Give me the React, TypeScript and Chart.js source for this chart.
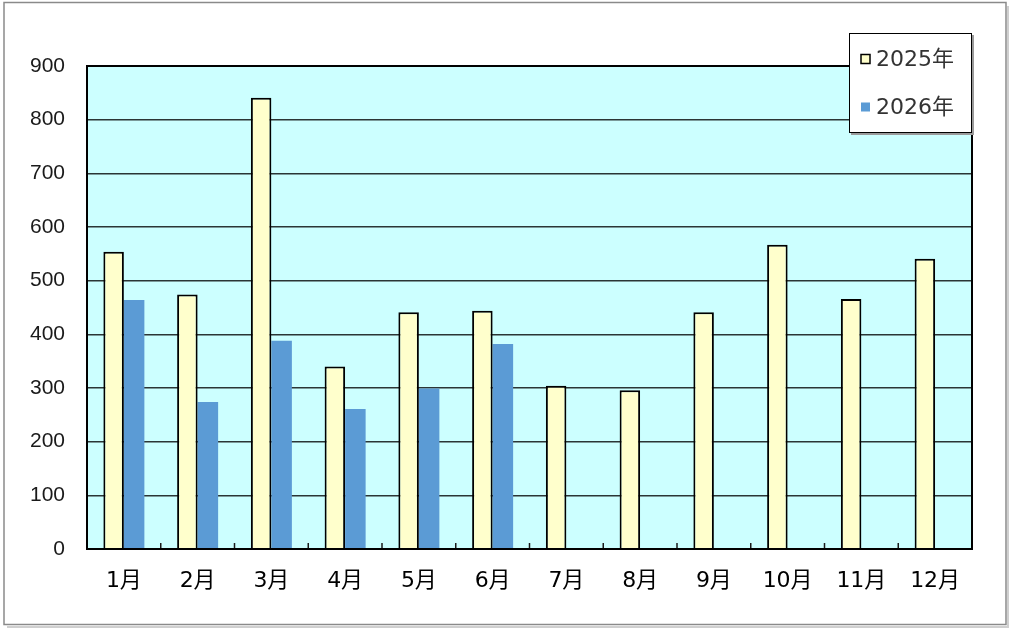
import React, { useEffect, useRef } from "react";
import { Chart, registerables } from "chart.js";

Chart.register(...registerables);

const categories = ["1月", "2月", "3月", "4月", "5月", "6月", "7月", "8月", "9月", "10月", "11月", "12月"];
const seriesNames = ["2025年", "2026年"];
const values2025 = [554, 474, 841, 340, 441, 444, 304, 296, 441, 567, 466, 541];
const values2026: (number | null)[] = [464, 274, 388, 261, 299, 382, null, null, null, null, null, null];
const yMin = 0;
const yMax = 900;
const yStep = 100;

const YELLOW = "#FFFFCC";
const BLUE = "#5B9BD5";
const PLOT_BG = "#CCFFFF";

const decorPlugin = {
  id: "decor",
  beforeDraw(chart: any) {
    const { ctx, chartArea: a, width, height } = chart;
    ctx.save();
    ctx.fillStyle = "#ffffff";
    ctx.fillRect(0, 0, width, height);
    ctx.strokeStyle = "#cfcfcf";
    ctx.lineWidth = 2;
    ctx.beginPath();
    ctx.moveTo(width - 5, 6);
    ctx.lineTo(width - 5, height - 3);
    ctx.lineTo(7, height - 3);
    ctx.stroke();
    ctx.strokeStyle = "#8a8a8a";
    ctx.lineWidth = 1.5;
    ctx.strokeRect(4, 2.5, width - 11, height - 8);
    ctx.fillStyle = PLOT_BG;
    ctx.fillRect(a.left, a.top, a.right - a.left, a.bottom - a.top);
    ctx.restore();
  },
  afterDatasetsDraw(chart: any) {
    const { ctx, chartArea: a } = chart;
    const xs = chart.scales.x;
    ctx.save();
    ctx.strokeStyle = "#1a1a1a";
    ctx.lineWidth = 1.5;
    const n = categories.length;
    for (let i = 0; i < n - 1; i++) {
      const bx = (xs.getPixelForTick(i) + xs.getPixelForTick(i + 1)) / 2;
      ctx.beginPath();
      ctx.moveTo(bx, a.bottom);
      ctx.lineTo(bx, a.bottom - 6);
      ctx.stroke();
    }
    ctx.strokeStyle = "#000000";
    ctx.lineWidth = 2;
    ctx.strokeRect(a.left, a.top, a.right - a.left, a.bottom - a.top);

    const w = 123;
    const h = 100;
    const lx = a.right - w;
    const ly = a.top - 33;
    ctx.fillStyle = "#9a9a9a";
    ctx.fillRect(lx + 2, ly + 2, w, h);
    ctx.fillStyle = "#ffffff";
    ctx.fillRect(lx, ly, w, h);
    ctx.strokeStyle = "#000000";
    ctx.lineWidth = 1;
    ctx.strokeRect(lx + 0.5, ly + 0.5, w - 1, h - 1);

    const rows = [ly + 26, ly + 74];
    chart.data.datasets.forEach((ds: any, i: number) => {
      const cy = rows[i];
      ctx.fillStyle = ds.backgroundColor;
      ctx.fillRect(lx + 12, cy - 4.5, 9, 9);
      if (ds.borderWidth) {
        ctx.strokeStyle = "#000";
        ctx.lineWidth = 1.5;
        ctx.strokeRect(lx + 12, cy - 4.5, 9, 9);
      }
      ctx.fillStyle = "#333333";
      ctx.font = '22px "DejaVu Sans", "Noto Sans CJK JP", sans-serif';
      ctx.textAlign = "left";
      ctx.textBaseline = "middle";
      ctx.fillText(ds.label, lx + 27, cy + 1);
    });
    ctx.restore();
  },
};

export default function App() {
  const ref = useRef<HTMLCanvasElement | null>(null);

  useEffect(() => {
    document.body.style.margin = "0";
    const canvas = ref.current;
    if (!canvas) return;
    const chart = new Chart(canvas, {
      type: "bar",
      data: {
        labels: categories,
        datasets: [
          {
            label: seriesNames[0],
            data: values2025,
            backgroundColor: YELLOW,
            borderColor: "#000000",
            borderWidth: 2,
            borderSkipped: "bottom",
          },
          {
            label: seriesNames[1],
            data: values2026,
            backgroundColor: BLUE,
            borderWidth: 0,
          },
        ],
      },
      options: {
        responsive: false,
        animation: false,
        layout: { padding: { top: 66, right: 41, left: 0, bottom: 0 } },
        datasets: {
          bar: { categoryPercentage: 0.556, barPercentage: 1.0 },
        },
        plugins: {
          legend: { display: false },
          tooltip: { enabled: false },
        },
        scales: {
          x: {
            offset: true,
            grid: { display: false, drawTicks: false },
            border: { display: false },
            ticks: {
              color: "#000000",
              padding: 19,
              font: { family: '"DejaVu Sans", "Noto Sans CJK JP", sans-serif', size: 22 },
              maxRotation: 0,
              autoSkip: false,
            },
            afterFit: (s: any) => {
              s.height = 81;
            },
          },
          y: {
            min: yMin,
            max: yMax,
            grid: { color: "#2b3535", lineWidth: 1.5, drawTicks: false },
            border: { display: false },
            ticks: {
              stepSize: yStep,
              color: "#1a1a1a",
              padding: 22,
              font: { family: '"Liberation Sans", Arial, sans-serif', size: 21 },
            },
            afterFit: (s: any) => {
              s.width = 87;
            },
          },
        },
      },
      plugins: [decorPlugin],
    });
    return () => chart.destroy();
  }, []);

  return (
    <div style={{ width: 1013, height: 630, position: "relative" }}>
      <canvas ref={ref} width={1013} height={630} style={{ display: "block" }} />
    </div>
  );
}
